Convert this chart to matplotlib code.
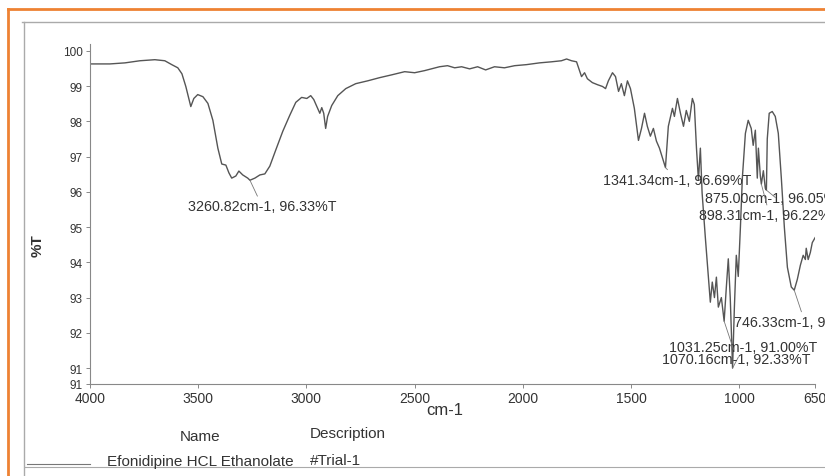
import matplotlib
matplotlib.use("Agg")
import matplotlib.pyplot as plt
from matplotlib.lines import Line2D

# FTIR spectrum (cm-1, %T)
wavenumber = [
    4000, 3908, 3838, 3769, 3700, 3654, 3622, 3594, 3575, 3557, 3543, 3534,
    3520, 3502, 3478, 3455, 3432, 3409, 3391, 3372, 3358, 3345, 3326, 3312,
    3294, 3271, 3260.82, 3238, 3215, 3192, 3169, 3142, 3109, 3077, 3049, 3022,
    2998, 2980, 2966, 2948, 2938, 2929, 2920, 2911, 2902, 2883, 2855, 2818,
    2772, 2717, 2662, 2606, 2546, 2500, 2454, 2422, 2385, 2348, 2315, 2283,
    2246, 2209, 2172, 2131, 2085, 2038, 1983, 1923, 1868, 1822, 1798, 1775,
    1752, 1738, 1729, 1715, 1702, 1679, 1655, 1632, 1618, 1605, 1586, 1572,
    1558, 1545, 1531, 1517, 1503, 1485, 1466, 1452, 1438, 1425, 1411, 1397,
    1383, 1369, 1341.34, 1328, 1309, 1300, 1286, 1272, 1258, 1245, 1231, 1217,
    1208, 1198, 1189, 1180, 1172, 1157, 1143, 1134, 1125, 1115, 1106, 1097,
    1083, 1070.16, 1060, 1051, 1042, 1031.25, 1023, 1014, 1005, 995, 986, 972,
    959, 945, 936, 926, 917, 912, 903, 898.31, 889, 880, 875.00, 871, 862, 848,
    834, 820, 806, 792, 778, 760, 746.33, 732, 718, 705, 695, 691, 682, 672,
    663, 650,
]
transmittance = [
    99.63, 99.63, 99.66, 99.72, 99.75, 99.72, 99.61, 99.52, 99.35, 98.99, 98.65, 98.42,
    98.65, 98.76, 98.70, 98.51, 98.03, 97.24, 96.79, 96.76, 96.54, 96.39, 96.45, 96.59,
    96.48, 96.39, 96.33, 96.39, 96.48, 96.51, 96.73, 97.18, 97.72, 98.17, 98.54, 98.68,
    98.65, 98.73, 98.62, 98.37, 98.23, 98.39, 98.23, 97.80, 98.14, 98.45, 98.73, 98.93,
    99.07, 99.15, 99.24, 99.32, 99.41, 99.38, 99.44, 99.49, 99.55, 99.58, 99.52, 99.55,
    99.49, 99.55, 99.46, 99.55, 99.52, 99.58, 99.61, 99.66, 99.69, 99.72, 99.77, 99.72,
    99.69, 99.44, 99.27, 99.38, 99.21, 99.10, 99.04, 98.99, 98.93, 99.15, 99.38, 99.27,
    98.85, 99.07, 98.73, 99.15, 98.93, 98.37, 97.46, 97.80, 98.23, 97.86, 97.58, 97.80,
    97.44, 97.24, 96.69, 97.86, 98.37, 98.14, 98.65, 98.23, 97.86, 98.31, 98.00, 98.65,
    98.48, 97.24, 96.34, 97.24, 95.97, 94.70, 93.58, 92.87, 93.44, 93.00, 93.58, 92.73,
    93.00, 92.33, 93.30, 94.10, 93.00, 91.00, 92.70, 94.20, 93.60, 95.00, 96.40, 97.66,
    98.03, 97.80, 97.32, 97.75, 96.39, 97.24, 96.45, 96.22, 96.60, 96.10, 96.05, 97.50, 98.23, 98.28,
    98.14, 97.66, 96.39, 94.99, 93.86, 93.30, 93.21, 93.52, 93.92, 94.20, 94.08, 94.40, 94.08, 94.28,
    94.56, 94.70,
]

# labelled peaks and where their labels sit
peak_wn = [3260.82, 1341.34, 875.00, 898.31, 746.33, 1031.25, 1070.16]
peak_t = [96.33, 96.69, 96.05, 96.22, 93.21, 91.00, 92.33]
label_wn = [3548, 1632, 1157, 1185, 1023, 1323, 1355]
label_t = [95.60, 96.35, 95.84, 95.35, 92.32, 91.59, 91.25]

y_ticks = [91, 92, 93, 94, 95, 96, 97, 98, 99, 100]
x_ticks = [4000, 3500, 3000, 2500, 2000, 1500, 1000, 650]

ink = "#333333"
plt.rcParams["font.family"] = ["Liberation Sans", "DejaVu Sans"]

fig = plt.figure(figsize=(8.25, 4.77), dpi=100)
ax = fig.add_axes([0.109, 0.193, 0.879, 0.713])

ax.plot(wavenumber, transmittance, color="#555555", lw=1.0)

for wn, t, lx, ly in zip(peak_wn, peak_t, label_wn, label_t):
    ax.annotate(f"{wn:.2f}cm-1, {t:.2f}%T", xy=(wn, t), xytext=(lx, ly),
                ha="left", va="center", fontsize=10.3, color=ink,
                annotation_clip=False,
                arrowprops=dict(arrowstyle="-", color="#777777", lw=0.6,
                                shrinkA=0, shrinkB=0))

ax.set_xlim(4000, 650)
ax.set_ylim(90.55, 100.2)
ax.set_xticks(x_ticks)
ax.set_xticklabels([str(v) for v in x_ticks], fontsize=10, color=ink)
ax.set_yticks(y_ticks + [90.55])
ax.set_yticklabels([str(v) for v in y_ticks] + ["91"], fontsize=8.5, color=ink)
ax.tick_params(length=3, width=0.7, color="#888888", pad=2)

for side in ["top", "right"]:
    ax.spines[side].set_visible(False)
for side in ["left", "bottom"]:
    ax.spines[side].set_color("#888888")
    ax.spines[side].set_linewidth(0.8)

fig.text(0.046, 0.486, "%T", rotation=90, fontsize=11, fontweight="bold",
         color=ink, ha="center", va="center")
fig.text(0.539, 0.140, "cm-1", fontsize=12, color=ink, ha="center", va="center")

# name / description block under the plot
fig.text(0.242, 0.084, "Name", fontsize=11, color=ink, ha="center", va="center")
fig.text(0.422, 0.090, "Description", fontsize=11, color=ink, ha="center", va="center")
fig.text(0.130, 0.032, "Efonidipine HCL Ethanolate", fontsize=11, color=ink, va="center")
fig.text(0.376, 0.034, "#Trial-1", fontsize=11, color=ink, va="center")

# page frame from the scan
fig.add_artist(Line2D([0.033, 0.109], [0.025, 0.025], transform=fig.transFigure,
                      color="#777777", lw=0.8))
fig.add_artist(Line2D([0.03, 1.0], [0.019, 0.019], transform=fig.transFigure,
                      color="#aaaaaa", lw=0.8))
fig.add_artist(Line2D([0.027, 1.0], [0.952, 0.952], transform=fig.transFigure,
                      color="#aaaaaa", lw=1.0))
fig.add_artist(Line2D([0.029, 0.029], [0.0, 0.952], transform=fig.transFigure,
                      color="#aaaaaa", lw=1.0))
fig.add_artist(Line2D([0.0097, 0.0097], [0.0, 0.979], transform=fig.transFigure,
                      color="#ee8233", lw=2.0))
fig.add_artist(Line2D([0.0097, 1.0], [0.979, 0.979], transform=fig.transFigure,
                      color="#ee8233", lw=2.0))

fig.savefig("out.png", dpi=100)
